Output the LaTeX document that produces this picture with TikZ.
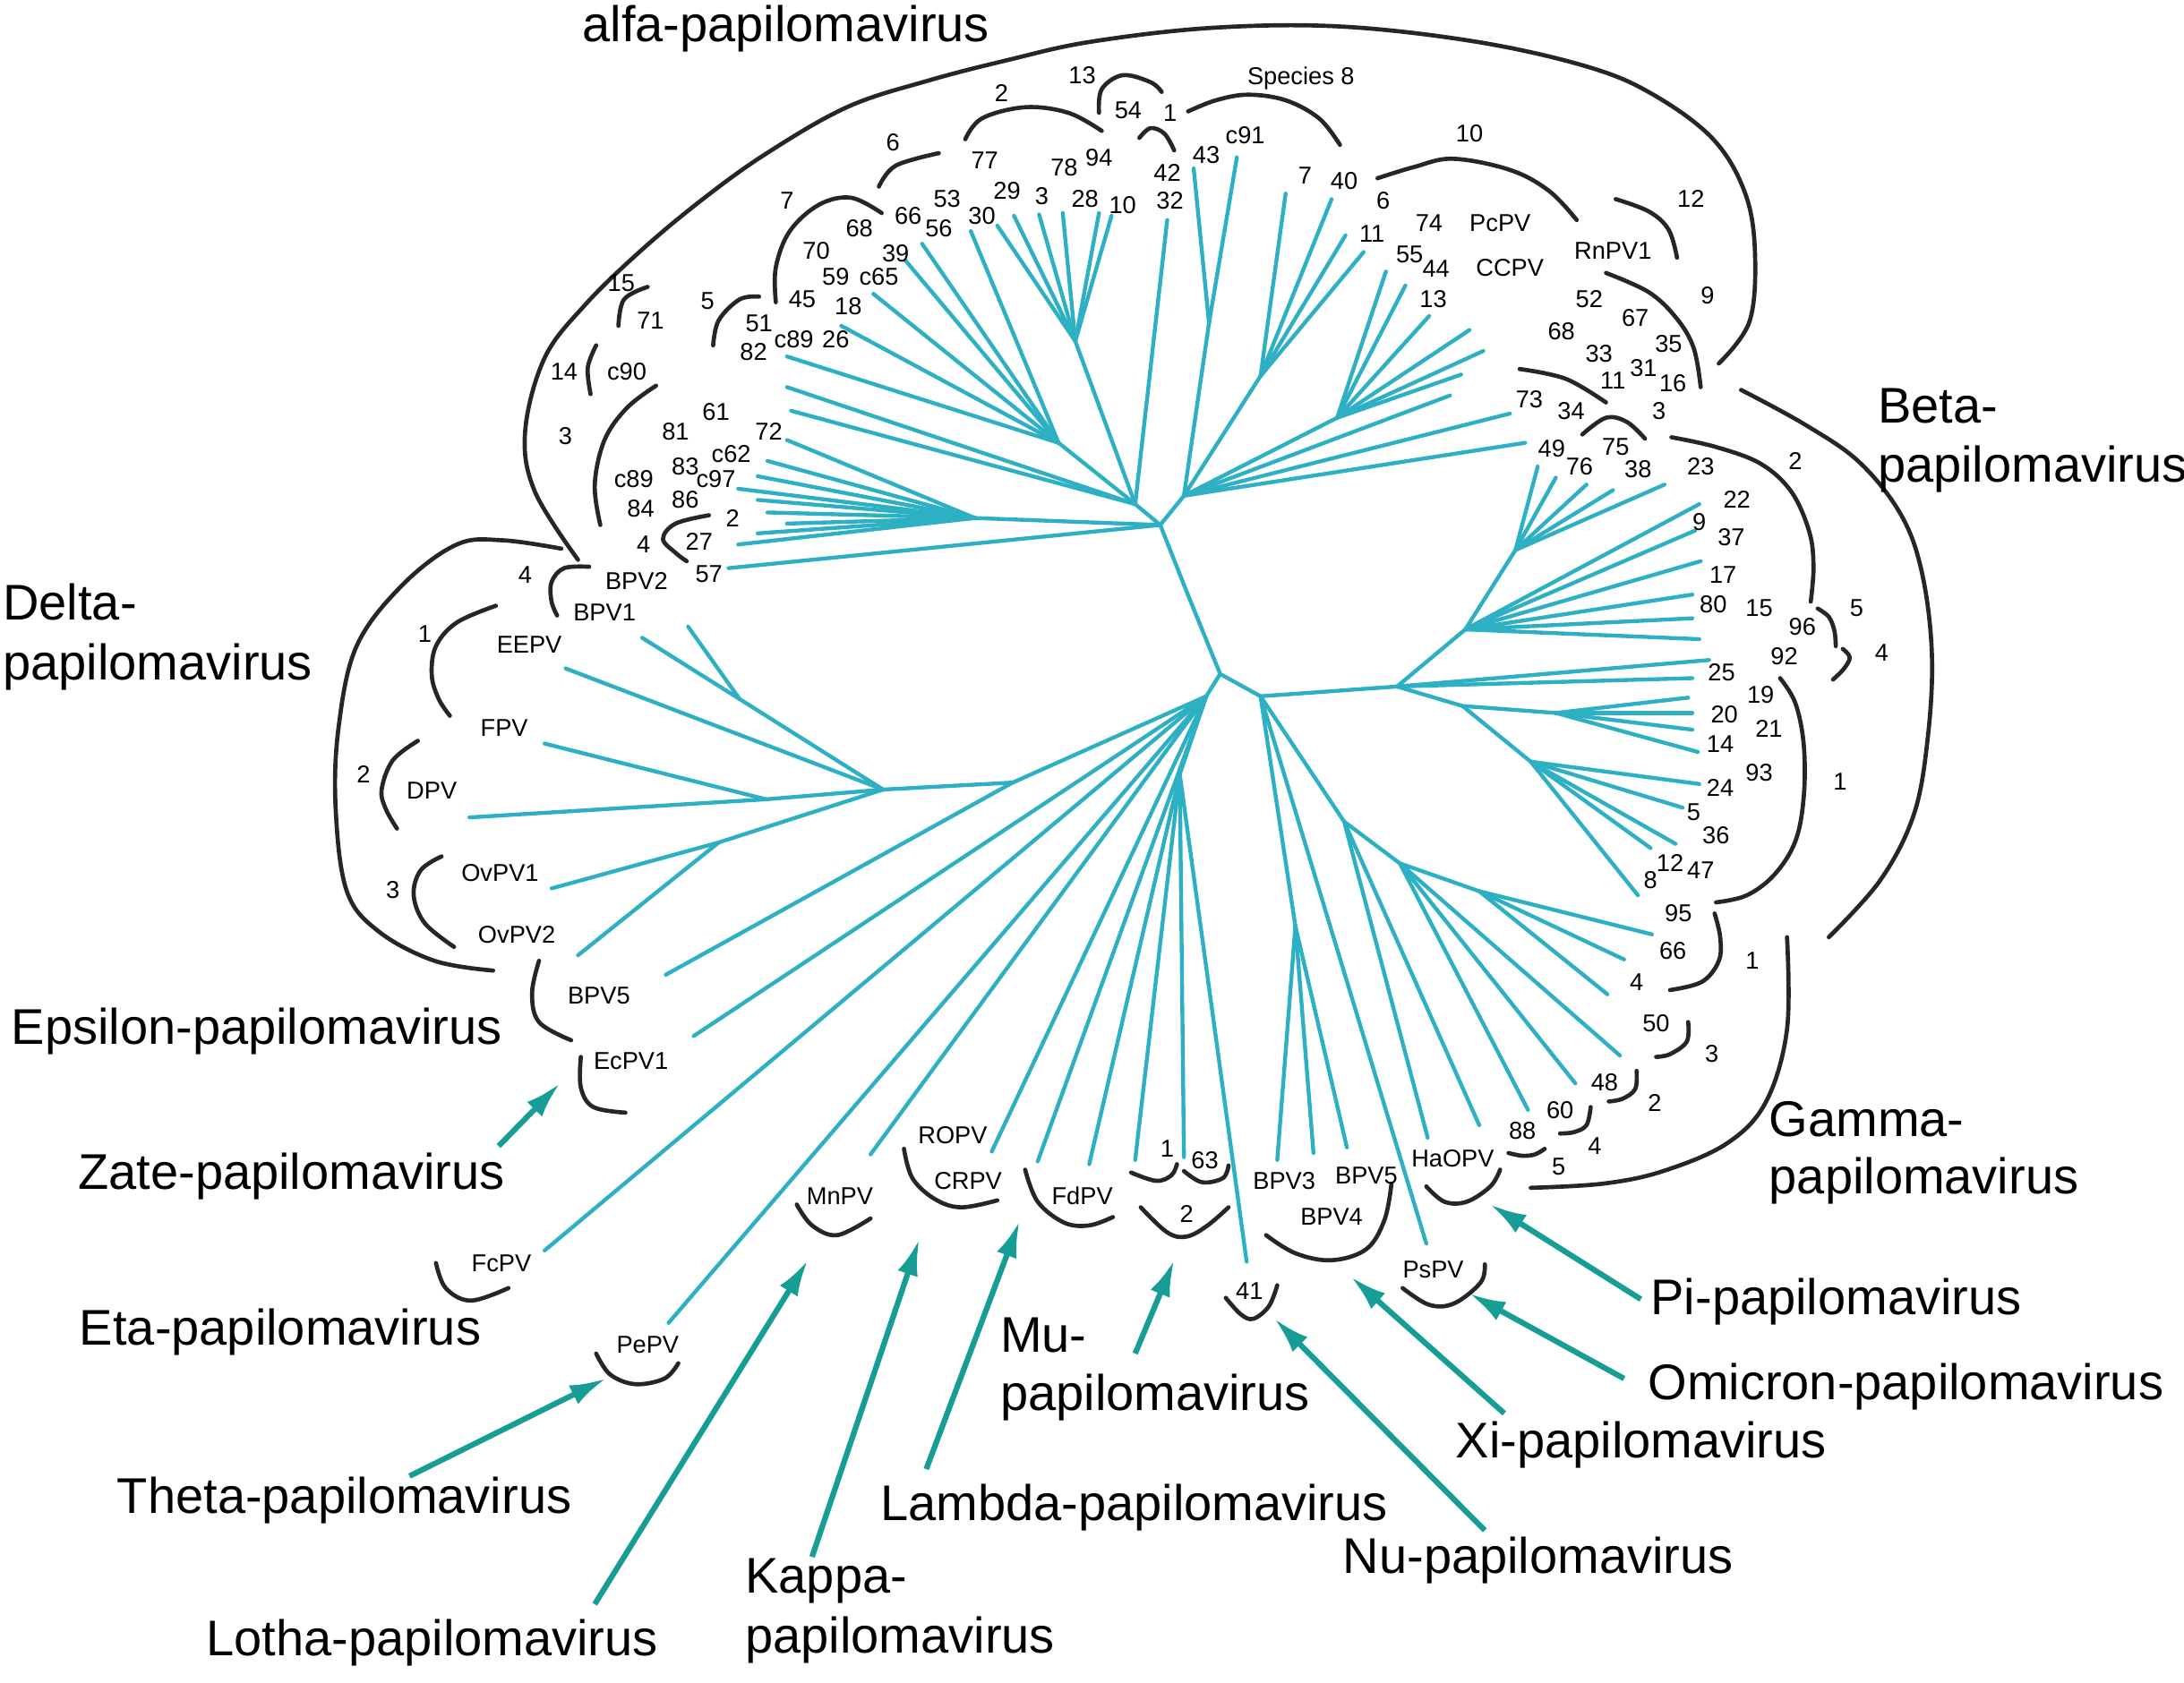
\documentclass[tikz,border=0pt]{standalone}
\usepackage{fontspec}
\setmainfont{Liberation Sans}
\usetikzlibrary{arrows.meta}
\definecolor{treecol}{RGB}{45,176,196}
\definecolor{arrcol}{RGB}{22,158,150}
\begin{document}
\begin{tikzpicture}[x=1pt,y=-1pt,
  tree/.style={draw=treecol, line width=2.8pt, line cap=round},
  brk/.style={draw=black!85, line width=3pt, line cap=round},
  arr/.style={draw=arrcol, line width=4pt, -{Latex[length=26pt,width=15pt]}},
  sm/.style={font=\fontsize{17.5}{20}\selectfont, inner sep=0pt},
  big/.style={font=\fontsize{36}{42}\selectfont, inner sep=0pt, anchor=base west}]
\useasboundingbox (0,0) rectangle (1568,1208);
\fill[white] (0,0) rectangle (1568,1208);

% ---------------- tree hubs ----------------
\coordinate (N0) at (876,484);
\coordinate (NA) at (833,377);
\coordinate (NB) at (905,500);
\coordinate (NBe) at (1003,493);
\coordinate (L0) at (866,500);
\coordinate (AL) at (815,362);
\coordinate (A1) at (772,245);
\coordinate (A3) at (760,318);
\coordinate (A4) at (700,372);
\coordinate (UR1) at (850,356);
\coordinate (UR2) at (960,300);
\coordinate (UR3) at (905,270);
\coordinate (UC) at (868,232);
\coordinate (BU1) at (1052,452);
\coordinate (BU2) at (1088,395);
\coordinate (BL1) at (1050,507);
\coordinate (BL2) at (1117,512);
\coordinate (BL3) at (1099,547);
\coordinate (G1) at (965,590);
\coordinate (G2) at (1005,620);
\coordinate (G3) at (1062,640);
\coordinate (BH) at (930,665);
\coordinate (M) at (847,556);
\coordinate (E0) at (727,562);
\coordinate (D0) at (634,567);
\coordinate (D1) at (550,574);
\coordinate (DH1) at (531,502);
\coordinate (OV) at (516,605);

% backbone
\draw[tree] (NA) -- (852,425) -- (N0) -- (NB) -- (NBe);
\draw[tree] (N0) -- (L0);
% alpha
\draw[tree] (NA) -- (AL) -- (A1);
\draw[tree] (AL) -- (A3);
\draw[tree] (AL) -- (838,158);
\foreach \p in {(716,162),(728,155),(746,154),(763,153),(789,153),(798,155)} {\draw[tree] (A1) -- \p;}
\foreach \p in {(697,166),(662,175),(650,187),(627,211),(604,234),(565,256)} {\draw[tree] (A3) -- \p;}
\foreach \p in {(565,278),(568,295)} {\draw[tree] (AL) -- \p;}
\draw[tree] (NA) -- (A4);
\foreach \p in {(565,316),(551,331),(544,342),(530,351),(544,359),(551,368),(565,376),(544,383),(530,391)} {\draw[tree] (A4) -- \p;}
\draw[tree] (NA) -- (523,408);
\draw[tree] (NA) -- (UR1);
\foreach \p in {(1095,318),(1084,297),(1041,284)} {\draw[tree] (UR1) -- \p;}
\draw[tree] (UR1) -- (UR2);
\foreach \p in {(1049,269),(1065,252),(1055,237),(1026,227),(1009,205),(995,195)} {\draw[tree] (UR2) -- \p;}
\draw[tree] (UR1) -- (UR3);
\foreach \p in {(979,181),(966,169),(956,143),(923,139)} {\draw[tree] (UR3) -- \p;}
\draw[tree] (UR1) -- (UC);
\foreach \p in {(857,121),(888,113)} {\draw[tree] (UC) -- \p;}
% beta
\draw[tree] (NBe) -- (BU1) -- (BU2);
\foreach \p in {(1104,335),(1117,343),(1139,348),(1158,352),(1195,348)} {\draw[tree] (BU2) -- \p;}
\foreach \p in {(1220,362),(1217,381),(1221,403),(1215,427),(1215,444),(1220,459)} {\draw[tree] (BU1) -- \p;}
\foreach \p in {(1227,474),(1215,487)} {\draw[tree] (NBe) -- \p;}
\draw[tree] (NBe) -- (BL1) -- (BL2);
\draw[tree] (BL1) -- (BL3);
\foreach \p in {(1212,501),(1215,512),(1215,524),(1219,540)} {\draw[tree] (BL2) -- \p;}
\foreach \p in {(1220,563),(1208,580),(1203,606),(1185,609),(1176,643)} {\draw[tree] (BL3) -- \p;}
% gamma & others
\draw[tree] (NB) -- (G1) -- (G2) -- (G3);
\foreach \p in {(1025,817),(1062,808)} {\draw[tree] (G1) -- \p;}
\foreach \p in {(1097,797),(1131,778),(1163,758)} {\draw[tree] (G2) -- \p;}
\foreach \p in {(1154,714),(1166,689),(1186,671)} {\draw[tree] (G3) -- \p;}
\draw[tree] (NB) -- (BH);
\foreach \p in {(917,833),(943,828),(967,824)} {\draw[tree] (BH) -- \p;}
\draw[tree] (NB) -- (1024,893);
% mu and lower left
\draw[tree] (L0) -- (M);
\foreach \p in {(782,836),(815,833),(850,831),(895,906)} {\draw[tree] (M) -- \p;}
\foreach \p in {(625,829),(712,827),(745,834),(498,744),(391,898),(480,950)} {\draw[tree] (L0) -- \p;}
% delta / epsilon
\draw[tree] (L0) -- (E0) -- (D0) -- (D1) -- (337,587);
\draw[tree] (E0) -- (478,700);
\draw[tree] (D0) -- (DH1);
\foreach \p in {(461,458),(494,450)} {\draw[tree] (DH1) -- \p;}
\draw[tree] (D0) -- (406,480);
\draw[tree] (D1) -- (391,534);
\draw[tree] (D0) -- (OV);
\foreach \p in {(396,638),(415,686)} {\draw[tree] (OV) -- \p;}

% ---------------- brackets ----------------
\draw[brk] plot[smooth, tension=0.6] coordinates {(415,402) (384,353) (377,310) (391,257) (420,219) (459,181) (502,145) (549,111) (608,77) (666,58) (724,43) (783,30) (870,20) (962,19) (1060,30) (1140,48) (1187,68) (1230,100) (1253,139) (1260,182) (1256,231) (1234,261)};
\draw[brk] plot[smooth, tension=0.6] coordinates {(853,80) (873,72) (896,68) (923,72) (947,85) (962,104)};
\draw[brk] plot[smooth, tension=0.6] coordinates {(789,81) (791,64) (806,54) (826,59) (834,66)};
\draw[brk] plot[smooth, tension=0.6] coordinates {(818,99) (826,92) (836,96) (843,108)};
\draw[brk] plot[smooth, tension=0.6] coordinates {(693,100) (705,85) (736,77) (767,81) (791,94)};
\draw[brk] plot[smooth, tension=0.6] coordinates {(631,134) (643,119) (674,110)};
\draw[brk] plot[smooth, tension=0.6] coordinates {(557,217) (557,192) (567,166) (588,147) (611,142) (633,153)};
\draw[brk] plot[smooth, tension=0.6] coordinates {(512,248) (516,230) (531,215) (545,213)};
\draw[brk] plot[smooth, tension=0.6] coordinates {(444,234) (448,215) (465,206)};
\draw[brk] plot[smooth, tension=0.6] coordinates {(428,248) (422,264) (424,283)};
\draw[brk] plot[smooth, tension=0.6] coordinates {(471,277) (450,293) (434,316) (427,348) (431,377)};
\draw[brk] plot[smooth, tension=0.6] coordinates {(509,370) (485,376) (476,387) (485,397) (493,403)};
\draw[brk] plot[smooth, tension=0.6] coordinates {(989,128) (1015,120) (1043,114) (1084,122) (1112,137) (1132,158)};
\draw[brk] plot[smooth, tension=0.6] coordinates {(1160,143) (1184,152) (1198,165) (1204,185)};
\draw[brk] plot[smooth, tension=0.6] coordinates {(1153,196) (1184,210) (1204,229) (1216,250) (1221,278)};
\draw[brk] plot[smooth, tension=0.6] coordinates {(1091,265) (1124,272) (1153,289)};
\draw[brk] plot[smooth, tension=0.6] coordinates {(1136,312) (1153,300) (1168,303) (1181,315)};
% delta
\draw[brk] plot[smooth, tension=0.6] coordinates {(403,394) (361,388) (328,391) (289,420) (256,464) (243,523) (241,581) (249,640) (272,669) (312,690) (354,697)};
\draw[brk] plot[smooth, tension=0.6] coordinates {(423,407) (405,408) (396,418) (396,432) (400,442)};
\draw[brk] plot[smooth, tension=0.6] coordinates {(356,435) (328,447) (313,464) (310,485) (315,502) (323,514)};
\draw[brk] plot[smooth, tension=0.6] coordinates {(300,532) (282,546) (274,567) (277,581) (285,595)};
\draw[brk] plot[smooth, tension=0.6] coordinates {(317,615) (302,625) (297,643) (305,663) (326,680)};
% epsilon, eta, theta
\draw[brk] plot[smooth, tension=0.6] coordinates {(387,690) (382,713) (387,734) (410,747)};
\draw[brk] plot[smooth, tension=0.6] coordinates {(417,759) (417,781) (426,795) (449,799)};
\draw[brk] plot[smooth, tension=0.6] coordinates {(313,907) (320,925) (338,934) (365,925)};
\draw[brk] plot[smooth, tension=0.6] coordinates {(428,972) (438,987) (456,994) (477,990) (487,979)};
% bottom
\draw[brk] plot[smooth, tension=0.6] coordinates {(572,865) (583,880) (601,887) (625,875)};
\draw[brk] plot[smooth, tension=0.6] coordinates {(649,825) (655,846) (671,861) (690,867) (716,862)};
\draw[brk] plot[smooth, tension=0.6] coordinates {(736,840) (745,863) (764,878) (782,880) (799,874)};
\draw[brk] plot[smooth, tension=0.6] coordinates {(812,842) (830,848) (841,844) (845,836)};
\draw[brk] plot[smooth, tension=0.6] coordinates {(850,841) (863,849) (878,846) (882,837)};
\draw[brk] plot[smooth, tension=0.6] coordinates {(819,867) (838,885) (852,888) (867,880) (882,867)};
\draw[brk] plot[smooth, tension=0.6] coordinates {(880,932) (891,944) (900,947) (911,938) (917,923)};
\draw[brk] plot[smooth, tension=0.6] coordinates {(909,887) (930,900) (956,905) (981,897) (994,876) (999,850)};
\draw[brk] plot[smooth, tension=0.6] coordinates {(1024,852) (1037,863) (1053,863) (1070,852) (1077,840)};
\draw[brk] plot[smooth, tension=0.6] coordinates {(1007,925) (1026,937) (1044,936) (1063,921) (1066,908)};
% gamma
\draw[brk] plot[smooth, tension=0.6] coordinates {(1083,828) (1093,830) (1102,829) (1109,825)};
\draw[brk] plot[smooth, tension=0.6] coordinates {(1120,814) (1130,813) (1139,808) (1142,795)};
\draw[brk] plot[smooth, tension=0.6] coordinates {(1155,791) (1165,789) (1174,782) (1175,769)};
\draw[brk] plot[smooth, tension=0.6] coordinates {(1189,759) (1199,757) (1211,748) (1212,734)};
\draw[brk] plot[smooth, tension=0.6] coordinates {(1231,656) (1235,673) (1234,690) (1222,705) (1199,711)};
\draw[brk] plot[smooth, tension=0.6] coordinates {(1099,853) (1151,850) (1194,841) (1240,821) (1268,791) (1283,739) (1283,673)};
% beta
\draw[brk] plot[smooth, tension=0.6] coordinates {(1250,280) (1296,305) (1335,332) (1365,370) (1380,412) (1387,470) (1384,530) (1374,585) (1350,632) (1313,673)};
\draw[brk] plot[smooth, tension=0.6] coordinates {(1200,314) (1232,321) (1264,333) (1286,353) (1299,382) (1302,407) (1300,432)};
\draw[brk] plot[smooth, tension=0.6] coordinates {(1305,437) (1313,443) (1317,453) (1318,464)};
\draw[brk] plot[smooth, tension=0.6] coordinates {(1323,466) (1328,472) (1324,480) (1316,488)};
\draw[brk] plot[smooth, tension=0.6] coordinates {(1278,487) (1289,505) (1295,535) (1295,572) (1289,604) (1274,628) (1254,643) (1232,648)};

% ---------------- small labels ----------------
\foreach \x/\y/\t [count=\i] in {719/67/2, 777/54/13, 810/79/54, 840/81/1, 934/56/{Species 8}, 641/102/6, 707/115/77, 764/120/78, 789/113/94, 838/124/42, 866/111/43, 894/97/c91, 937/126/7, 965/130/40, 565/144/7, 680/143/53, 723/137/29, 748/141/3, 779/143/28, 806/147/10, 840/144/32, 652/155/66, 705/155/30, 674/164/56, 617/164/68, 586/180/70, 643/182/39, 600/199/59, 631/199/c65, 446/203/15, 508/216/5, 576/215/45, 609/220/18, 467/230/71, 545/232/51, 570/244/c89, 600/244/26, 541/253/82, 405/267/14, 450/267/c90, 514/296/61, 485/310/81, 552/310/72, 406/313/3, 525/326/c62, 492/335/83, 514/344/c97, 455/344/c89, 492/359/86, 460/365/84, 526/372/2, 462/391/4, 502/389/27, 509/412/57, 457/417/BPV2, 377/413/4, 434/440/BPV1}
  {\node[sm] (al\i) at (\x,\y) {\t};}
\foreach \x/\y/\t [count=\i] in {1055/96/10, 993/144/6, 985/168/11, 1026/160/74, 1077/160/PcPV, 1012/183/55, 1031/193/44, 1084/192/CCPV, 1029/215/13, 1214/143/12, 1158/180/RnPV1, 1226/212/9, 1141/215/52, 1174/228/67, 1121/238/68, 1148/254/33, 1198/247/35, 1180/264/31, 1158/273/11, 1201/275/16, 1098/287/73, 1128/295/34, 1191/295/3, 1160/321/75, 1114/322/49, 1134/335/76, 1176/337/38, 1221/335/23, 1289/331/2}
  {\node[sm] (tr\i) at (\x,\y) {\t};}
\foreach \x/\y/\t [count=\i] in {1247/359/22, 1220/375/9, 1243/386/37, 1237/413/17, 1230/434/80, 1263/437/15, 1294/450/96, 1333/437/5, 1281/471/92, 1351/469/4, 1236/483/25, 1264/499/19, 1238/513/20, 1270/523/21, 1235/534/14, 1263/555/93, 1321/561/1, 1235/566/24, 1216/583/5, 1232/600/36, 1199/620/12, 1221/625/47, 1185/632/8, 1205/656/95}
  {\node[sm] (be\i) at (\x,\y) {\t};}
\foreach \x/\y/\t [count=\i] in {1201/683/66, 1258/690/1, 1175/705/4, 1189/735/50, 1229/757/3, 1152/777/48, 1188/792/2, 1120/797/60, 1145/823/4, 1093/812/88, 1119/838/5, 1043/832/HaOPV}
  {\node[sm] (ga\i) at (\x,\y) {\t};}
\foreach \x/\y/\t [count=\i] in {684/815/ROPV, 695/848/CRPV, 603/859/MnPV, 777/859/FdPV, 838/825/1, 865/833/63, 852/872/2, 922/848/BPV3, 981/844/BPV5, 956/874/BPV4, 897/927/41, 1029/912/PsPV}
  {\node[sm] (bo\i) at (\x,\y) {\t};}
\foreach \x/\y/\t [count=\i] in {305/455/1, 380/463/EEPV, 362/523/FPV, 261/556/2, 310/568/DPV, 359/627/OvPV1, 282/639/3, 371/671/OvPV2, 430/715/BPV5, 453/762/EcPV1, 360/907/FcPV, 465/966/PePV}
  {\node[sm] (le\i) at (\x,\y) {\t};}

% ---------------- big labels ----------------
\node[big] (alfa) at (418,30) {alfa-papilomavirus};
\node[big] (betaA) at (1348,304) {Beta-};
\node[big] (betaB) at (1348,346) {papilomavirus};
\node[big] (deltaA) at (2,445) {Delta-};
\node[big] (deltaB) at (2,488) {papilomavirus};
\node[big] (epsilon) at (8,750) {Epsilon-papilomavirus};
\node[big] (zate) at (56,854) {Zate-papilomavirus};
\node[big] (eta) at (57,966) {Eta-papilomavirus};
\node[big] (theta) at (84,1087) {Theta-papilomavirus};
\node[big] (lotha) at (148,1189) {Lotha-papilomavirus};
\node[big] (kappaA) at (535,1144) {Kappa-};
\node[big] (kappaB) at (535,1187) {papilomavirus};
\node[big] (lambda) at (632,1092) {Lambda-papilomavirus};
\node[big] (muA) at (718,971) {Mu-};
\node[big] (muB) at (718,1013) {papilomavirus};
\node[big] (nu) at (964,1130) {Nu-papilomavirus};
\node[big] (xi) at (1045,1047) {Xi-papilomavirus};
\node[big] (omicron) at (1183,1005) {Omicron-papilomavirus};
\node[big] (pi) at (1185,944) {Pi-papilomavirus};
\node[big] (gammaA) at (1270,816) {Gamma-};
\node[big] (gammaB) at (1270,857) {papilomavirus};

% ---------------- arrows ----------------
\coordinate (zateT) at (358,823);   \coordinate (zateH) at (402,778);
\coordinate (thetaT) at (294,1060); \coordinate (thetaH) at (435,990);
\coordinate (lothaT) at (427,1152); \coordinate (lothaH) at (580,905);
\coordinate (kappaT) at (583,1118); \coordinate (kappaH) at (660,890);
\coordinate (lambdaT) at (665,1055);\coordinate (lambdaH) at (732,877);
\coordinate (muT) at (815,972);     \coordinate (muH) at (843,905);
\coordinate (nuT) at (1066,1099);   \coordinate (nuH) at (915,947);
\coordinate (xiT) at (1080,1015);   \coordinate (xiH) at (970,917);
\coordinate (omT) at (1166,990);    \coordinate (omH) at (1055,929);
\coordinate (piT) at (1178,933);    \coordinate (piH) at (1070,865);
\foreach \a in {zate,theta,lotha,kappa,lambda,mu,nu,xi,om,pi} {\draw[arr] (\a T) -- (\a H);}
\end{tikzpicture}
\end{document}
